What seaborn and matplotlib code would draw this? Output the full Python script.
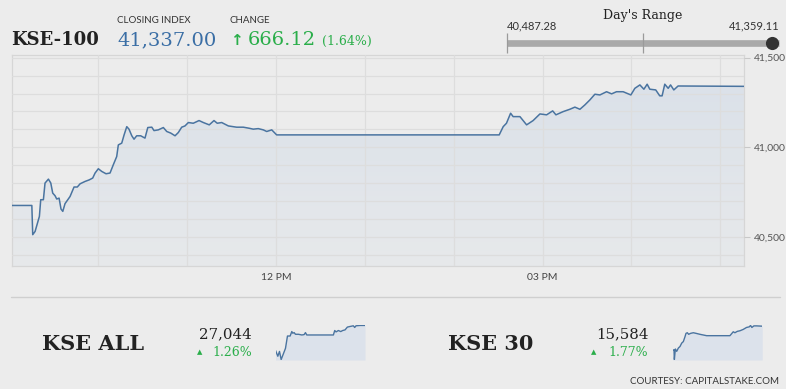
# KSE-100 intraday snapshot (recreated with seaborn / matplotlib)
import numpy as np
import pandas as pd
import matplotlib
matplotlib.use("Agg")
import matplotlib.pyplot as plt
from matplotlib.lines import Line2D
from matplotlib.colors import LinearSegmentedColormap
import seaborn as sns

# ==========================================
# DATA
# ==========================================

# KSE-100 intraday, minutes after 09:00
kse100_minutes = [
    1.5, 15.1, 15.7, 17.3, 20.2, 21.1, 22.9, 24.0, 26.3, 27.9, 29.2, 30.8,
    31.9, 33.5, 34.8, 36.0, 37.5, 40.9, 43.6, 45.8, 47.7, 51.0, 53.9, 56.2,
    57.8, 60.0, 62.3, 65.2, 67.9, 70.1, 72.4, 73.5, 75.8, 77.4, 79.2, 80.7,
    82.6, 84.1, 85.9, 88.6, 91.5, 93.4, 96.1, 97.6, 100.5, 103.9, 106.2,
    108.9, 111.8, 114.0, 116.3, 118.5, 120.8, 124.1, 128.0, 130.9, 134.9,
    138.1, 140.3, 143.3, 147.8, 153.4, 157.9, 161.9, 164.6, 168.0, 171.4,
    173.7, 177.1, 180.4, 330.7, 333.4, 335.6, 338.4, 340.1, 344.7, 349.2,
    353.6, 358.2, 362.7, 366.8, 369.0, 373.9, 378.4, 381.8, 385.2, 388.5,
    391.9, 395.3, 398.7, 403.2, 406.6, 409.9, 414.4, 419.6, 422.3, 425.7,
    428.4, 430.6, 432.4, 436.4, 439.1, 440.7, 442.5, 444.8, 446.4, 448.6,
    451.5, 495.9,
]
kse100_values = [
    40675, 40675, 40512, 40530, 40614, 40707, 40707, 40800, 40822, 40800,
    40744, 40729, 40711, 40716, 40655, 40642, 40685, 40725, 40778, 40778,
    40796, 40809, 40818, 40828, 40856, 40880, 40865, 40852, 40856, 40902,
    40948, 41013, 41023, 41069, 41115, 41101, 41064, 41045, 41064, 41064,
    41051, 41110, 41112, 41093, 41097, 41110, 41088, 41079, 41064, 41082,
    41112, 41119, 41138, 41134, 41149, 41138, 41125, 41149, 41134, 41138,
    41119, 41112, 41112, 41106, 41101, 41104, 41097, 41088, 41097, 41069,
    41069, 41115, 41134, 41190, 41171, 41171, 41125, 41149, 41186, 41181,
    41203, 41181, 41199, 41212, 41224, 41212, 41236, 41264, 41296, 41292,
    41310, 41298, 41310, 41310, 41292, 41329, 41348, 41324, 41352, 41324,
    41320, 41287, 41287, 41352, 41329, 41348, 41320, 41342, 41340,
]

closing_index = "41,337.00"
change_points = "666.12"
change_pct = "(1.64%)"
day_low = 40487.28
day_high = 41359.11
day_close = 41337.00

hour_ticks = [10, 11, 12, 13, 14, 15, 16, 17]
hour_labels = ["", "", "12 PM", "", "", "03 PM", "", ""]
y_label_ticks = [40500, 41000, 41500]
y_grid_ticks = [40400, 40500, 40600, 40700, 40800, 40900, 41000,
                41100, 41200, 41300, 41400, 41500]

# KSE ALL sparkline
kse_all_minutes = [0, 12.9, 22.1, 31.3, 44.2, 55.2, 66.2, 73.6, 80.9, 90.2,
                   95.7, 103.0, 110.4, 127.0, 145.4, 158.2, 165.6, 172.9,
                   320.1, 327.5, 334.8, 347.7, 360.6, 371.6, 384.5, 397.4,
                   412.1, 430.5, 437.9, 445.3, 467.3, 494.9]
kse_all_values = [26767, 26700, 26755, 26662, 26731, 26790, 26931, 26931,
                  26931, 26982, 26963, 26970, 26951, 26951, 26943, 26947,
                  26970, 26943, 26943, 26994, 26978, 26994, 26982, 26994,
                  27001, 27033, 27040, 27048, 27029, 27048, 27052, 27052]
kse_all_close = "27,044"
kse_all_pct = "1.26%"

# KSE 30 sparkline
kse30_minutes = [0, 7.4, 9.2, 14.7, 22.1, 31.3, 40.5, 49.7, 58.9, 68.1, 73.6,
                 80.9, 88.3, 99.4, 114.1, 128.8, 150.9, 169.3, 187.7, 316.5,
                 327.5, 334.8, 344.0, 357.0, 371.6, 390.0, 408.4, 423.2,
                 430.5, 437.9, 448.9, 463.6, 494.9]
kse30_values = [15343, 15350, 15250, 15357, 15333, 15367, 15383, 15417,
                15433, 15483, 15517, 15523, 15507, 15517, 15523, 15517,
                15507, 15500, 15493, 15493, 15517, 15533, 15523, 15537,
                15543, 15557, 15577, 15583, 15597, 15577, 15593, 15593,
                15590]
kse30_close = "15,584"
kse30_pct = "1.77%"

# ==========================================
# STYLE
# ==========================================

BG = "#ececec"
LINE = "#4a74a0"
GREEN = "#2aae4a"
SERIF = "DejaVu Serif"
SANS = "Lato"

sns.set_style("white", {"axes.facecolor": BG, "figure.facecolor": BG})
plt.rcParams["font.family"] = [SANS, "DejaVu Sans"]

W, H = 786, 389


def fx(px):
    return px / W


def fy(py):
    return 1 - py / H


fig = plt.figure(figsize=(W / 100, H / 100), dpi=100)
fig.patch.set_facecolor(BG)

# ==========================================
# MAIN CHART
# ==========================================

main = pd.DataFrame({"hour": 9 + np.array(kse100_minutes) / 60,
                     "index": kse100_values})

y_bottom, y_top = 40337, 41515
x_left, x_right = main["hour"].iloc[0], 9 + 496 / 60
ax = fig.add_axes([fx(11.7), fy(266), fx(744) - fx(11.7), (266 - 55) / H])
ax.set_facecolor(BG)

# gradient fill under the line
area = ax.fill_between(main["hour"], main["index"], y_bottom,
                       color="none", linewidth=0)
fade = LinearSegmentedColormap.from_list("fade", ["#e7e9eb", "#d9e0e9"])
grad = ax.imshow(np.linspace(0, 1, 256).reshape(-1, 1), cmap=fade,
                 aspect="auto", origin="lower",
                 extent=[x_left, x_right, y_bottom, y_top], zorder=1)
grad.set_clip_path(area.get_paths()[0], transform=ax.transData)

sns.lineplot(data=main, x="hour", y="index", ax=ax, color=LINE,
             linewidth=1.1, estimator=None, sort=False, zorder=3)

ax.set_xlim(x_left, x_right)
ax.set_ylim(y_bottom, y_top)
ax.set_xticks(hour_ticks)
ax.set_xticklabels(hour_labels)
ax.set_yticks(y_label_ticks)
ax.set_yticklabels([f"{v:,}" for v in y_label_ticks])
ax.set_yticks(y_grid_ticks, minor=True)
ax.yaxis.tick_right()
ax.tick_params(axis="y", which="major", length=4, width=0.8, color="#c8c8c8",
               labelsize=7.5, labelcolor="#555555", pad=3)
ax.tick_params(axis="y", which="minor", length=0)
ax.tick_params(axis="x", length=0, labelsize=7.5, labelcolor="#444444", pad=5)
ax.grid(True, which="both", color="#dddddd", linewidth=0.9)
ax.set_axisbelow(False)
ax.set_xlabel("")
ax.set_ylabel("")
for s in ax.spines.values():
    s.set_color("#d6d6d6")
    s.set_linewidth(0.9)

# ==========================================
# HEADER
# ==========================================

fig.text(fx(11), fy(45), "KSE-100", family=SERIF, fontsize=13,
         fontweight="bold", color="#222222", va="baseline")
fig.text(fx(117), fy(22.7), "CLOSING INDEX", fontsize=7,
         color="#333333", va="baseline")
fig.text(fx(117), fy(45), closing_index, family=SERIF, fontsize=14,
         color="#3a6ea5", va="baseline")
fig.text(fx(230), fy(22.7), "CHANGE", fontsize=7,
         color="#333333", va="baseline")
fig.text(fx(230), fy(45), "\u2191", family="DejaVu Sans", fontsize=11,
         fontweight="bold", color=GREEN, va="baseline")
fig.text(fx(248), fy(45), change_points, family=SERIF, fontsize=14,
         color=GREEN, va="baseline")
fig.text(fx(322), fy(45), change_pct, family=SERIF, fontsize=9,
         color=GREEN, va="baseline")

# Day's range bar
fig.text(fx(643), fy(19), "Day's Range", family=SERIF, fontsize=9,
         color="#222222", ha="center", va="baseline")
fig.text(fx(507), fy(29.3), f"{day_low:,.2f}", fontsize=8,
         color="#333333", va="baseline")
fig.text(fx(779), fy(29.3), f"{day_high:,.2f}", fontsize=8,
         color="#333333", ha="right", va="baseline")

axr = fig.add_axes([fx(507.3), fy(56), fx(779) - fx(507.3), 26 / H])
axr.set_xlim(day_low, day_high)
axr.set_ylim(0, 1)
axr.axis("off")
axr.plot([day_low, day_high], [0.5, 0.5], color="#a9a9a9", linewidth=4.8,
         solid_capstyle="butt", clip_on=False)
axr.vlines([day_low, (day_low + day_high) / 2], 0.12, 0.88,
           color="#9a9a9a", linewidth=0.9, clip_on=False)
axr.scatter([day_close], [0.5], s=90, color="#333333", zorder=5,
            clip_on=False, linewidths=0)

# ==========================================
# BOTTOM STRIP
# ==========================================

fig.add_artist(Line2D([fx(11), fx(780)], [fy(296.5), fy(296.5)],
                      color="#cfcfcf", linewidth=1))


def sparkline(left, minutes, values):
    d = pd.DataFrame({"m": minutes, "v": values})
    a = fig.add_axes([fx(left), fy(360), 89.5 / W, 35 / H])
    a.set_facecolor(BG)
    lo, hi = min(values), max(values)
    a.fill_between(d["m"], d["v"], lo - 5, color="#dce2eb", linewidth=0)
    sns.lineplot(data=d, x="m", y="v", ax=a, color=LINE, linewidth=1.0,
                 estimator=None, sort=False)
    a.set_xlim(d["m"].min(), d["m"].max())
    a.set_ylim(lo - 5, hi + 5)
    a.axis("off")
    return a


def index_block(name_x, num_right, tri_x, name, close, pct):
    fig.text(fx(name_x), fy(350), name, family=SERIF, fontsize=15,
             fontweight="bold", color="#222222", va="baseline")
    fig.text(fx(num_right), fy(338.3), close, family=SERIF, fontsize=10.8,
             color="#222222", ha="right", va="baseline")
    fig.text(fx(num_right), fy(355.5), pct, family=SERIF, fontsize=9,
             color=GREEN, ha="right", va="baseline")
    fig.text(fx(tri_x), fy(354), "\u25b2", family="DejaVu Sans", fontsize=5,
             color=GREEN, ha="center", va="baseline")


index_block(42, 252, 200, "KSE ALL", kse_all_close, kse_all_pct)
sparkline(275.5, kse_all_minutes, kse_all_values)

index_block(448, 648.3, 594, "KSE 30", kse30_close, kse30_pct)
sparkline(672.7, kse30_minutes, kse30_values)

fig.text(fx(779), fy(384), "COURTESY: CAPITALSTAKE.COM", fontsize=7,
         color="#333333", ha="right", va="baseline")

fig.savefig("out.png", dpi=100, facecolor=BG)
